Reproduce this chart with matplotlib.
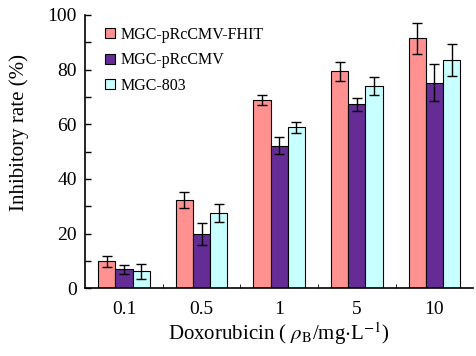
import matplotlib
matplotlib.use("Agg")
import matplotlib.pyplot as plt
import numpy as np

plt.rcParams['font.family'] = ['Liberation Serif', 'DejaVu Serif']
plt.rcParams['mathtext.fontset'] = 'stix'

doses = ["0.1", "0.5", "1", "5", "10"]
series = ["MGC-pRcCMV-FHIT", "MGC-pRcCMV", "MGC-803"]
fhit = [9.9, 32.4, 68.9, 79.4, 91.4]
fhit_err = [2.0, 3.0, 2.0, 3.4, 5.8]
vector = [7.0, 20.0, 52.2, 67.3, 75.2]
vector_err = [1.7, 4.0, 3.0, 2.5, 6.8]
parent = [6.2, 27.5, 58.9, 74.1, 83.5]
parent_err = [2.7, 3.3, 2.0, 3.2, 5.8]

colors = ['#ff9191', '#652c96', '#c8ffff']

fig = plt.figure(figsize=(4.76, 3.56), dpi=100)
ax = fig.add_axes([0.179, 0.19, 0.815, 0.768])

x = np.arange(len(doses))
w = 0.222
for i, (vals, errs) in enumerate([(fhit, fhit_err), (vector, vector_err), (parent, parent_err)]):
    ax.bar(x + (i - 1) * w, vals, w, yerr=errs, color=colors[i], edgecolor='black',
           linewidth=0.8, label=series[i],
           error_kw=dict(ecolor='black', elinewidth=1.0, capsize=3.5, capthick=1.0))

ax.set_xlim(-0.5, 4.5)
ax.set_ylim(0, 100)
ax.set_xticks(x)
ax.set_xticklabels(doses)
ax.set_xticks(np.arange(0.5, 4.5, 1), minor=True)
ax.set_yticks(np.arange(0, 101, 20))
ax.set_yticks(np.arange(10, 100, 20), minor=True)
ax.tick_params(axis='x', which='major', length=0, labelsize=14, pad=9)
ax.tick_params(axis='x', which='minor', direction='in', length=3)
ax.tick_params(axis='y', which='both', direction='in', length=4, labelsize=14, width=1, pad=6)
ax.spines['top'].set_visible(False)
ax.spines['right'].set_visible(False)
ax.spines['left'].set_linewidth(1.2)
ax.spines['bottom'].set_linewidth(1.2)

ax.set_ylabel("Inhibitory rate (%)", fontsize=15)
ax.yaxis.set_label_coords(-0.145, 0.57)
ax.set_xlabel(r"Doxorubicin ( $\rho_{\rm B}$/mg$\cdot$L$^{-1}$)", fontsize=15, labelpad=2)

ax.legend(loc='upper left', frameon=False, fontsize=11.5, handlelength=0.6, handleheight=0.6,
          handletextpad=0.35, labelspacing=0.6, borderaxespad=0.0, bbox_to_anchor=(0.035, 0.98))

fig.savefig("out.png", dpi=100)
